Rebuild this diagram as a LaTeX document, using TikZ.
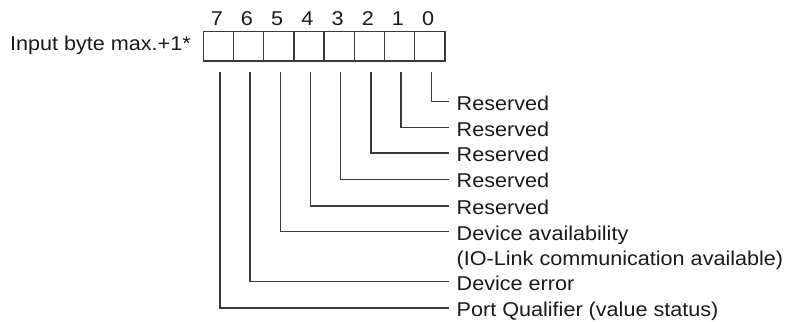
\documentclass[tikz,border=0pt]{standalone}
\usepackage{fontspec}
\setmainfont{Liberation Sans}[FakeStretch=1.08]
\definecolor{linec}{HTML}{3A3A3A}
\definecolor{txt}{HTML}{1A1A1A}
\begin{document}
\begin{tikzpicture}[x=1pt,y=-1pt,
  cell/.style={draw=linec, line width=1.4pt, minimum width=30.2pt, minimum height=29.5pt, inner sep=0pt, outer sep=0pt, anchor=north west},
  lbl/.style={inner sep=0pt, anchor=base west, text=txt, font=\fontsize{20}{24}\selectfont},
  dig/.style={inner sep=0pt, anchor=base, text=txt, font=\fontsize{20}{24}\selectfont},
  conn/.style={draw=linec, line width=1.4pt}]
\useasboundingbox (0,0) rectangle (789,321);
\node[inner sep=0pt, anchor=base east, text=txt, font=\fontsize{20}{24}\selectfont] (in) at (191,51) {Input byte max.+1*};
\foreach \b in {0,...,7} {
  \node[cell] (c\b) at ({203.3+(7-\b)*30.2},31.7) {};
  \node[dig] (d\b) at ({203.3+(7-\b)*30.2+13.5},25.7) {\b};
}
\node[lbl] (t0) at (456.5,110) {Reserved};
\node[lbl] (t1) at (456.5,136) {Reserved};
\node[lbl] (t2) at (456.5,161.5) {Reserved};
\node[lbl] (t3) at (456.5,187.8) {Reserved};
\node[lbl] (t4) at (456.5,214.3) {Reserved};
\node[lbl] (t5) at (456.5,240.2) {Device availability};
\node[lbl] (t5b) at (456.5,265.5) {(IO-Link communication available)};
\node[lbl] (t6) at (456.5,290.2) {Device error};
\node[lbl] (t7) at (456.5,316.5) {Port Qualifier (value status)};
\foreach \b in {0,...,7} {
  \draw[conn] ([xshift=1.5pt,yshift=-10.5pt]c\b.south) |- ([xshift=-7.2pt,yshift=8.5pt]t\b.base west);
}
\end{tikzpicture}
\end{document}
